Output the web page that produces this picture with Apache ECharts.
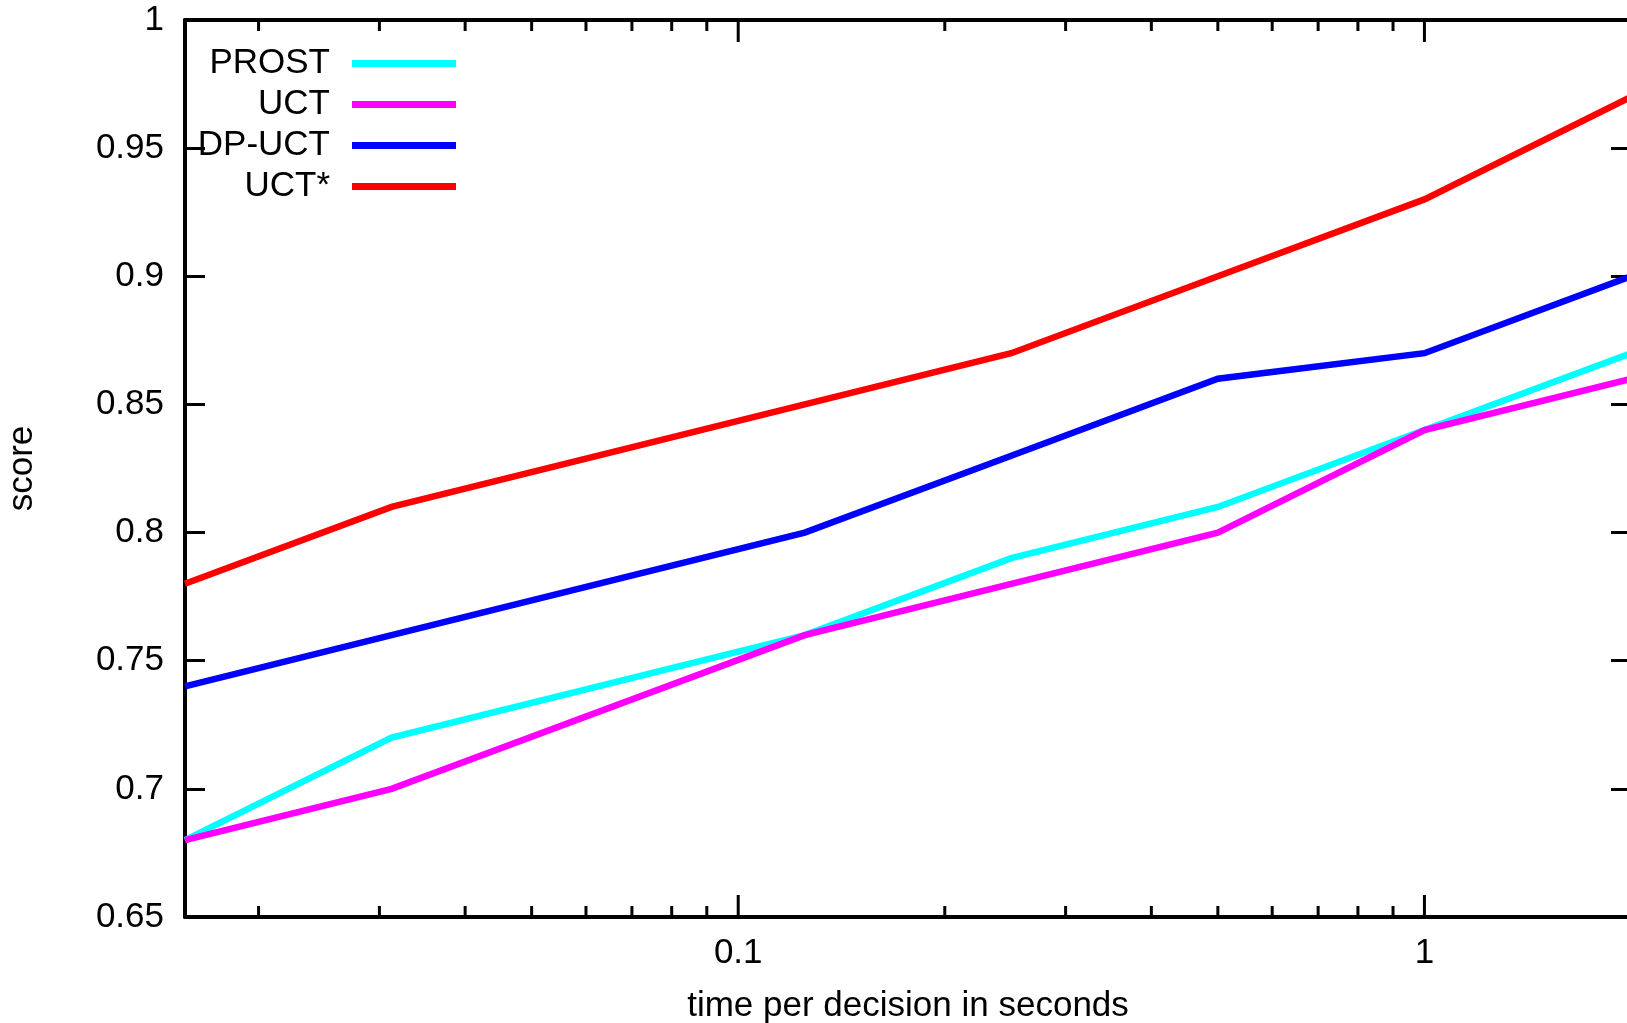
<!DOCTYPE html>
<html>
<head>
<meta charset="utf-8">
<script src="https://cdn.jsdelivr.net/npm/echarts@6/dist/echarts.min.js"></script>
<style>
html,body{margin:0;padding:0;background:#fff;}
#chart{width:1627px;height:1023px;}
</style>
</head>
<body>
<div id="chart"></div>
<script>
// ---- data ----
const times = [1/64, 1/32, 1/8, 1/4, 1/2, 1, 2];
const seriesNames = ['PROST', 'UCT', 'DP-UCT', 'UCT*'];
const prost = [0.68, 0.72, 0.76, 0.79, 0.81, 0.84, 0.87];
const uct = [0.68, 0.70, 0.76, 0.78, 0.80, 0.84, 0.86];
const dpuct = [0.74, 0.76, 0.80, 0.83, 0.86, 0.87, 0.90];
const uctStar = [0.78, 0.81, 0.85, 0.87, 0.90, 0.93, 0.97];
const xMajorTicks = [0.1, 1];
const xMinorTicks = [0.02, 0.03, 0.04, 0.05, 0.06, 0.07, 0.08, 0.09,
                     0.2, 0.3, 0.4, 0.5, 0.6, 0.7, 0.8, 0.9, 2];
const yMin = 0.65, yMax = 1, yStep = 0.05;

// ---- chart ----
const colors = ['#00ffff', '#ff00ff', '#0000ff', '#ff0000'];
const values = [prost, uct, dpuct, uctStar];
const FONT = '"Liberation Sans", Arial, Helvetica, sans-serif';

const lineSeries = seriesNames.map((name, i) => ({
  name: name,
  type: 'line',
  data: times.map((t, j) => [t, values[i][j]]),
  symbol: 'none',
  color: colors[i],
  lineStyle: { width: 6.5, color: colors[i], join: 'miter' },
  z: 3 + i,
  animation: false
}));

const tickData = xMinorTicks.map(v => [v, yMin, 11]).concat(xMajorTicks.map(v => [v, yMin, 22]));

const tickSeries = {
  type: 'custom',
  coordinateSystem: 'cartesian2d',
  data: tickData,
  encode: { x: 0, y: 1 },
  silent: true,
  animation: false,
  z: 10,
  renderItem: function (params, api) {
    const x = api.value(0);
    const len = api.value(2);
    const pb = api.coord([x, yMin]);
    const pt = api.coord([x, yMax]);
    const style = { stroke: '#000', lineWidth: 3 };
    return {
      type: 'group',
      children: [
        { type: 'line', shape: { x1: pb[0], y1: pb[1], x2: pb[0], y2: pb[1] - len }, style: style },
        { type: 'line', shape: { x1: pt[0], y1: pt[1], x2: pt[0], y2: pt[1] + len }, style: style }
      ]
    };
  }
};

function xLabel(v) {
  for (const m of xMajorTicks) {
    if (Math.abs(v - m) < 1e-9 * Math.max(1, m)) return String(m);
  }
  return '';
}

const chart = echarts.init(document.getElementById('chart'), null, { renderer: 'canvas' });
chart.setOption({
  backgroundColor: '#fff',
  animation: false,
  textStyle: { fontFamily: FONT, color: '#000' },
  grid: { left: 185, top: 20, width: 1446, height: 897, containLabel: false, outerBoundsMode: 'none' },
  legend: {
    data: seriesNames,
    orient: 'vertical',
    align: 'right',
    right: 1171,
    top: 46,
    padding: 0,
    itemGap: 6,
    itemWidth: 104,
    itemHeight: 7,
    icon: 'rect',
    selectedMode: false,
    textStyle: { fontSize: 35, color: '#000', fontFamily: FONT, lineHeight: 35, padding: [0, 17, 0, 0] }
  },
  xAxis: [
    {
      type: 'log', logBase: 10, min: times[0], max: 2,
      position: 'bottom',
      name: 'time per decision in seconds',
      nameLocation: 'middle',
      nameGap: 72,
      nameTextStyle: { fontSize: 35, color: '#000', fontFamily: FONT },
      axisLine: { show: true, lineStyle: { color: '#000', width: 4 } },
      axisTick: { show: false },
      splitLine: { show: false },
      minorTick: { show: false },
      axisLabel: { show: true, formatter: xLabel, fontSize: 35, color: '#000', margin: 19, fontFamily: FONT, showMinLabel: false, showMaxLabel: false }
    },
    {
      type: 'log', logBase: 10, min: times[0], max: 2,
      position: 'top',
      axisLine: { show: true, lineStyle: { color: '#000', width: 4 } },
      axisTick: { show: false },
      axisLabel: { show: false },
      splitLine: { show: false }
    }
  ],
  yAxis: [
    {
      type: 'value', min: yMin, max: yMax, interval: yStep,
      position: 'left',
      name: 'score',
      nameLocation: 'middle',
      nameGap: 145,
      nameRotate: 90,
      nameTextStyle: { fontSize: 35, color: '#000', fontFamily: FONT },
      axisLine: { show: true, lineStyle: { color: '#000', width: 4 } },
      axisTick: { show: true, inside: true, length: 20, lineStyle: { color: '#000', width: 3 } },
      splitLine: { show: false },
      axisLabel: { fontSize: 35, color: '#000', margin: 21, fontFamily: FONT,
        formatter: v => String(+v.toFixed(2)) }
    },
    {
      type: 'value', min: yMin, max: yMax, interval: yStep,
      position: 'right',
      axisLine: { show: true, lineStyle: { color: '#000', width: 4 } },
      axisTick: { show: true, inside: true, length: 20, lineStyle: { color: '#000', width: 3 } },
      splitLine: { show: false },
      axisLabel: { show: false }
    }
  ],
  series: lineSeries.concat([tickSeries])
});
</script>
</body>
</html>
